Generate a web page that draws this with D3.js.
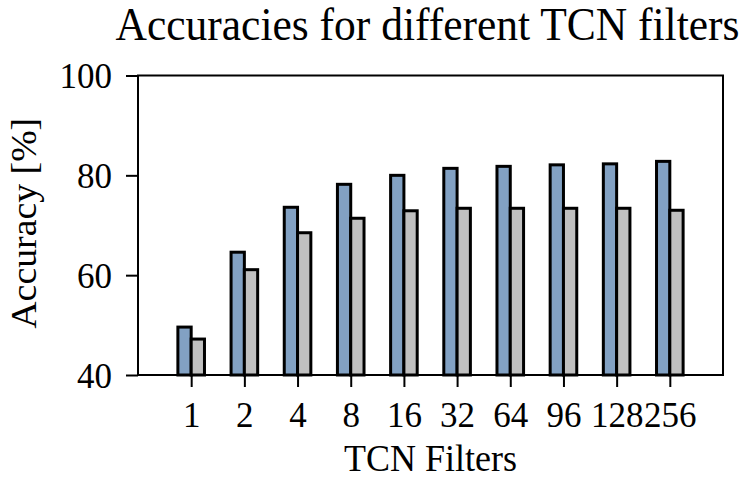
<!DOCTYPE html>
<html>
<head>
<meta charset="utf-8">
<script src="https://cdn.jsdelivr.net/npm/d3@7"></script>
<style>
  html, body { margin: 0; padding: 0; background: #ffffff; }
  svg { display: block; }
  text { font-family: "Liberation Serif", "DejaVu Serif", serif; fill: #000; }
</style>
</head>
<body>
<div id="chart"></div>
<script>
// Filter counts on the x axis
const filters = ["1", "2", "4", "8", "16", "32", "64", "96", "128", "256"];
// Accuracy (%) for each filter count, two series
const accuracyA = [49.6, 64.6, 73.6, 78.2, 80.0, 81.4, 81.8, 82.1, 82.3, 82.8];
const accuracyB = [47.2, 61.1, 68.5, 71.4, 72.9, 73.4, 73.4, 73.4, 73.4, 73.0];
const yTicks = [40, 60, 80, 100];

const W = 748, H = 479;
const margin = { left: 138, right: 25, top: 75.5, bottom: 104 };
const x0 = margin.left, x1 = W - margin.right;
const y0 = margin.top, y1 = H - margin.bottom;
const stretch = 1.05;   // slightly tall glyphs for title and axis labels

const svg = d3.select("#chart").append("svg")
  .attr("width", W).attr("height", H);

// Category positions as integer slots 0..9 with one slot of padding each side
const x = d3.scaleLinear().domain([-1, filters.length]).range([x0, x1]);
const y = d3.scaleLinear().domain([40, 100]).range([y1, y0]);
const barW = 0.25;

const series = [
  { values: accuracyA, offset: -barW / 2, fill: "#82a1c3" },
  { values: accuracyB, offset: barW / 2, fill: "#c0c0c0" }
];

const plot = svg.append("g");
series.forEach(s => {
  plot.selectAll(null)
    .data(s.values)
    .enter().append("rect")
    .attr("x", (d, i) => x(i + s.offset - barW / 2))
    .attr("width", x(barW) - x(0))
    .attr("y", d => y(d))
    .attr("height", d => y(40) - y(d))
    .attr("fill", s.fill)
    .attr("stroke", "#000")
    .attr("stroke-width", 3);
});

// Frame
svg.append("rect")
  .attr("x", x0).attr("y", y0)
  .attr("width", x1 - x0).attr("height", y1 - y0)
  .attr("fill", "none").attr("stroke", "#000").attr("stroke-width", 2);

// X axis
const xAxis = d3.axisBottom(x)
  .tickValues(d3.range(filters.length))
  .tickFormat(i => filters[i])
  .tickSize(12);
const gx = svg.append("g").attr("transform", `translate(0,${y1})`).call(xAxis);
gx.select(".domain").remove();
gx.selectAll(".tick line").attr("stroke", "#000").attr("stroke-width", 2);
gx.selectAll(".tick text")
  .attr("dy", null).attr("y", 52)
  .attr("font-size", 35).attr("font-family", "Liberation Serif").attr("fill", "#000");

// Y axis
const yAxis = d3.axisLeft(y).tickValues(yTicks).tickSize(12);
const gy = svg.append("g").attr("transform", `translate(${x0},0)`).call(yAxis);
gy.select(".domain").remove();
gy.selectAll(".tick line").attr("stroke", "#000").attr("stroke-width", 2);
gy.selectAll(".tick text")
  .attr("dy", null).attr("x", -26).attr("y", 12)
  .attr("font-size", 35).attr("font-family", "Liberation Serif").attr("fill", "#000");

// Title and axis labels
svg.append("text")
  .attr("transform", `translate(427.5,40) scale(1,${stretch})`)
  .attr("text-anchor", "middle").attr("font-size", 43.5)
  .text("Accuracies for different TCN filters");

svg.append("text")
  .attr("transform", `translate(${(x0 + x1) / 2},471) scale(1,${stretch})`)
  .attr("text-anchor", "middle").attr("font-size", 36)
  .text("TCN Filters");

svg.append("text")
  .attr("transform", `translate(36,${(y0 + y1) / 2 - 2}) scale(1,${stretch}) rotate(-90)`)
  .attr("text-anchor", "middle").attr("font-size", 36)
  .text("Accuracy [%]");
</script>
</body>
</html>
